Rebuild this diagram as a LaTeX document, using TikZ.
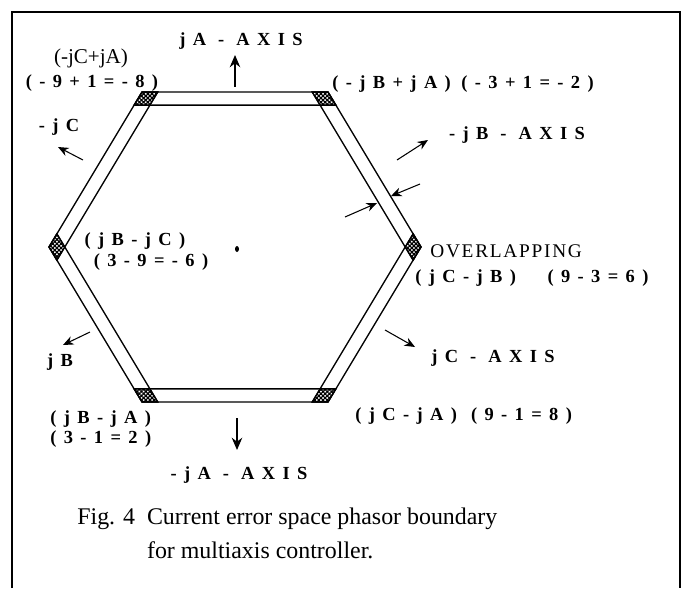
\documentclass[tikz,border=0pt]{standalone}
\usepackage{fontspec}
\setmainfont{Liberation Serif}
\newfontfamily\spacedfont[LetterSpace=40]{Liberation Serif}
\newfontfamily\widefont[LetterSpace=9]{Liberation Serif}
\usetikzlibrary{positioning,arrows.meta,calc,patterns.meta}
\newcommand\bandfrac{0.085}
\newcommand\innerfrac{0.915}

\tikzset{
  axislabel/.style={font=\spacedfont\bfseries\fontsize{10.5}{12}\selectfont, inner sep=0pt},
  plainlabel/.style={font=\fontsize{12}{14}\selectfont, inner sep=0pt},
  widelabel/.style={font=\widefont\fontsize{11}{13}\selectfont, inner sep=0pt},
  captiontext/.style={font=\fontsize{13.6}{19}\selectfont, inner sep=0pt, align=left},
  pointer/.style={-{Stealth[length=6pt,width=5pt]}, line width=0.6pt},
  bigpointer/.style={-{Stealth[length=7pt,width=6pt]}, line width=0.8pt},
  band/.style={draw, line width=0.75pt},
  overlap/.style={draw, line width=0.6pt, pattern={Hatch[distance=1.7pt,angle=45,line width=0.7pt]}},
}

\begin{document}
\begin{tikzpicture}[x=0.02cm, y=-0.02cm]
\useasboundingbox (0,0) rectangle (689,588);
% frame
\draw[line width=1.1pt] (12,588) -- (12,12) -- (680,12) -- (680,588);

% hexagonal band
\coordinate (c) at (235,247);
\foreach \i in {0,...,5} {
  \coordinate (v\i) at ($(c)+(60*\i:186 and 179)$);
}
\foreach \i in {0,...,5} {
  \pgfmathtruncatemacro\nx{mod(\i+1,6)}
  \pgfmathtruncatemacro\nnx{mod(\i+2,6)}
  \pgfmathtruncatemacro\pv{mod(\i+5,6)}
  \draw[band] (v\i) -- (v\nx) -- ($(v\nx)!\bandfrac!(v\nnx)$) -- ($(v\i)!\bandfrac!(v\pv)$) -- cycle;
}
\foreach \i in {0,...,5} {
  \pgfmathtruncatemacro\nx{mod(\i+1,6)}
  \pgfmathtruncatemacro\pv{mod(\i+5,6)}
  \draw[overlap] (v\i) -- ($(v\i)!\bandfrac!(v\nx)$) -- ($(c)!\innerfrac!(v\i)$) -- ($(v\i)!\bandfrac!(v\pv)$) -- cycle;
}
\fill (237,249) ellipse (2 and 3);

% labels
\node[axislabel] (jAaxis) at (241,41) {jA - AXIS};
\node[plainlabel] (jCjA) at (91,58) {(-jC+jA)};
\node[axislabel] (jCjAval) at (92,83) {(-9+1=-8)};
\node[axislabel, anchor=west] (jBjA) at (332,84) {(-jB+jA)\hspace{6pt}(-3+1=-2)};
\node[axislabel] (jBaxis) at (517,135) {-jB - AXIS};
\node[axislabel] (negjC) at (59,127) {-jC};
\node[axislabel] (jBjC) at (135,241) {(jB-jC)};
\node[axislabel] (jBjCval) at (151,262) {(3-9=-6)};
\node[widelabel, anchor=west] (overlapping) at (430,251) {OVERLAPPING};
\node[axislabel, anchor=west] (jCjB) at (415,278) {(jC-jB)\hspace{18pt}(9-3=6)};
\node[axislabel] (jCaxis) at (493,358) {jC - AXIS};
\node[axislabel] (jB) at (60,362) {jB};
\node[axislabel, anchor=west] (jBminusjA) at (50,419) {(jB-jA)};
\node[axislabel, anchor=west] (jBminusjAval) at (50,439) {(3-1=2)};
\node[axislabel, anchor=west] (jCminusjA) at (355,416) {(jC-jA)\hspace{8pt}(9-1=8)};
\node[axislabel] (negjAaxis) at (239,475) {-jA - AXIS};
\node[captiontext, anchor=north west] (caption) at (77,508)
  {Fig. 4\ \ Current error space phasor boundary\\\phantom{Fig. 4\ \ }for multiaxis controller.};

% arrows
\coordinate (upfrom) at (235,87);
\coordinate (upto) at (235,55);
\coordinate (downfrom) at (237,418);
\coordinate (downto) at (237,450);
\coordinate (jBfrom) at (397,160);
\coordinate (jBto) at (428,140);
\coordinate (jCfrom) at (83,160);
\coordinate (jCto) at (58,147);
\coordinate (posjBfrom) at (90,332);
\coordinate (posjBto) at (63,345);
\coordinate (posjCfrom) at (385,330);
\coordinate (posjCto) at (415,347);
\coordinate (outerfrom) at (420,184);
\coordinate (outerto) at (391,196);
\coordinate (innerfrom) at (345,217);
\coordinate (innerto) at (377,203);
\draw[bigpointer] (upfrom) -- (upto);
\draw[bigpointer] (downfrom) -- (downto);
\draw[pointer] (jBfrom) -- (jBto);
\draw[pointer] (jCfrom) -- (jCto);
\draw[pointer] (posjBfrom) -- (posjBto);
\draw[pointer] (posjCfrom) -- (posjCto);
\draw[pointer] (outerfrom) -- (outerto);
\draw[pointer] (innerfrom) -- (innerto);
\end{tikzpicture}
\end{document}
